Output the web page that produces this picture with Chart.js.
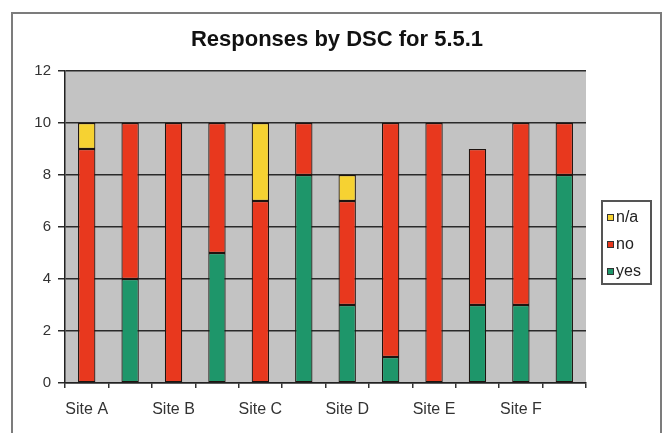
<!DOCTYPE html>
<html>
<head>
<meta charset="utf-8">
<title>Responses by DSC for 5.5.1</title>
<script src="https://cdn.jsdelivr.net/npm/chart.js@4/dist/chart.umd.min.js"></script>
<style>
  html, body { margin: 0; padding: 0; background: #ffffff; }
  #wrap { width: 663px; height: 433px; position: relative; }
</style>
</head>
<body>
<div id="wrap"><canvas id="c" width="663" height="433"></canvas></div>
<script>
// Two bars per site; only the first bar of each pair carries the site name.
const categories = ['Site A', '', 'Site B', '', 'Site C', '', 'Site D', '', 'Site E', '', 'Site F', ''];
const yesValues = [0, 4, 0, 5, 0, 8, 3, 1, 0, 3, 3, 8];
const noValues  = [9, 6, 10, 5, 7, 2, 4, 9, 10, 6, 7, 2];
const naValues  = [1, 0, 0, 0, 3, 0, 1, 0, 0, 0, 0, 0];
const yTicks = [0, 2, 4, 6, 8, 10, 12];
const chartTitle = 'Responses by DSC for 5.5.1';

const FONT = "'Liberation Sans', Arial, sans-serif";

// Frame, plot background, title and boxed legend
const decorations = {
  id: 'decorations',
  beforeDraw(chart) {
    const ctx = chart.ctx;
    const a = chart.chartArea;
    ctx.save();
    ctx.fillStyle = '#ffffff';
    ctx.fillRect(0, 0, chart.width, chart.height);
    ctx.strokeStyle = '#7c7c7c';
    ctx.lineWidth = 2;
    ctx.strokeRect(12, 13, 649, 440);
    ctx.fillStyle = '#c3c3c3';
    ctx.fillRect(a.left, a.top, a.right - a.left, a.bottom - a.top);
    ctx.restore();
  },
  afterDraw(chart) {
    const ctx = chart.ctx;
    ctx.save();
    // title
    ctx.fillStyle = '#111111';
    ctx.font = 'bold 22px ' + FONT;
    ctx.textAlign = 'center';
    ctx.textBaseline = 'middle';
    ctx.fillText(chartTitle, 337, 40);

    // legend box (top series first)
    const lx = 602, ly = 201, lw = 49, lh = 83;
    ctx.strokeStyle = '#555555';
    ctx.lineWidth = 2;
    ctx.fillStyle = '#ffffff';
    ctx.fillRect(lx, ly, lw, lh);
    ctx.strokeRect(lx, ly, lw, lh);
    const sets = chart.data.datasets.slice().reverse();
    ctx.font = '16px ' + FONT;
    ctx.textAlign = 'left';
    sets.forEach((ds, i) => {
      const cy = ly + 16 + i * 27;
      ctx.fillStyle = ds.backgroundColor;
      ctx.fillRect(lx + 5, cy - 3, 7, 7);
      ctx.strokeStyle = '#333333';
      ctx.lineWidth = 1;
      ctx.strokeRect(lx + 5.5, cy - 2.5, 6, 6);
      ctx.fillStyle = '#222222';
      ctx.fillText(ds.label, lx + 14, cy + 1);
    });
    ctx.restore();
  }
};

const barStyle = { borderColor: '#1e1410', borderWidth: 1.2, borderSkipped: false, categoryPercentage: 1, barPercentage: 0.4 };

new Chart(document.getElementById('c'), {
  type: 'bar',
  data: {
    labels: categories,
    datasets: [
      Object.assign({ label: 'yes', data: yesValues, backgroundColor: '#1e966a' }, barStyle),
      Object.assign({ label: 'no',  data: noValues,  backgroundColor: '#e8381e' }, barStyle),
      Object.assign({ label: 'n/a', data: naValues,  backgroundColor: '#f6d232' }, barStyle)
    ]
  },
  options: {
    responsive: false,
    animation: false,
    layout: { padding: { left: 0, right: 77, top: 71, bottom: 0 } },
    plugins: {
      legend: { display: false },
      title: { display: false },
      tooltip: { enabled: false }
    },
    scales: {
      x: {
        stacked: true,
        offset: true,
        grid: { offset: true, drawOnChartArea: false, drawTicks: true, tickLength: 5, color: '#333333', lineWidth: 1.5 },
        border: { display: true, color: '#222222', width: 1.5 },
        ticks: { autoSkip: false, maxRotation: 0, padding: 12, color: '#333333', font: { family: FONT, size: 16 } },
        afterFit(scale) { scale.height = 50; }
      },
      y: {
        stacked: true,
        min: 0,
        max: 12,
        afterBuildTicks(scale) { scale.ticks = yTicks.map(v => ({ value: v })); },
        grid: { color: '#2a2a2a', lineWidth: 1.5, drawTicks: true, tickLength: 7 },
        border: { display: true, color: '#222222', width: 1.5 },
        ticks: { padding: 7, color: '#333333', font: { family: FONT, size: 15 } },
        afterFit(scale) { scale.width = 65; }
      }
    }
  },
  plugins: [decorations]
});
</script>
</body>
</html>
